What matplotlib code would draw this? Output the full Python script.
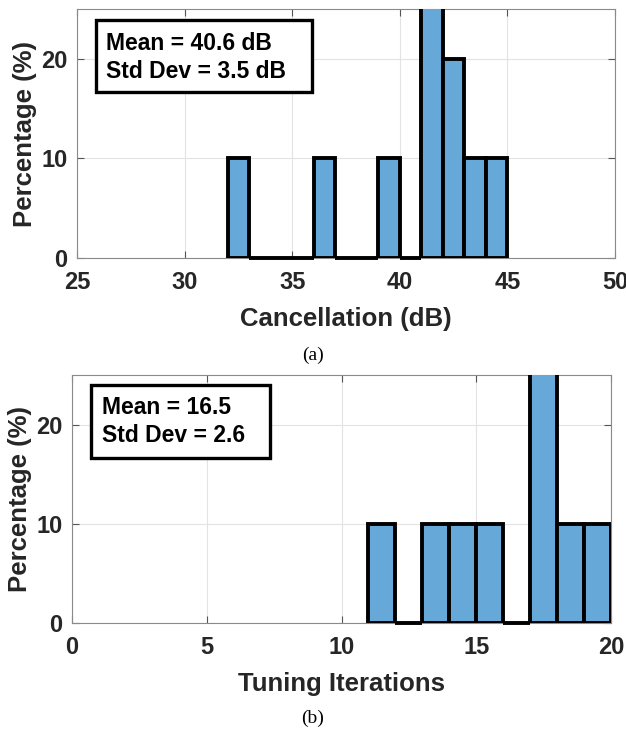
import matplotlib.pyplot as plt
from matplotlib.patches import Rectangle
import numpy as np

plt.rcParams['font.family'] = ['Liberation Sans', 'DejaVu Sans']

# histogram (a): cancellation, bin edges 32..45 step 1
canc_edges = [32, 33, 34, 35, 36, 37, 38, 39, 40, 41, 42, 43, 44, 45]
canc_pct = [10, 0, 0, 0, 10, 0, 0, 10, 0, 30, 20, 10, 10]

# histogram (b): tuning iterations, bin edges 11..20 step 1
iter_edges = [11, 12, 13, 14, 15, 16, 17, 18, 19, 20]
iter_pct = [10, 0, 10, 10, 10, 0, 40, 10, 10]

bar_color = '#66a8d7'
W, H = 626, 736
fig = plt.figure(figsize=(W / 100, H / 100), dpi=100)


def draw_hist(rect, edges, pct, xlim, xticks, xlabel, box_lines, box_px, caption, cap_y):
    ax = fig.add_axes(rect)
    edges = np.array(edges, dtype=float)
    bars = ax.bar(edges[:-1], pct, width=np.diff(edges), align='edge',
                  color=bar_color, edgecolor='black', linewidth=2.8, zorder=3)
    for b in bars:
        # empty bins are drawn as a thick line on the baseline
        if b.get_height() == 0:
            b.set_clip_on(False)
    ax.set_xlim(*xlim)
    ax.set_ylim(0, 25)
    ax.set_xticks(xticks)
    ax.set_yticks([0, 10, 20])
    ax.grid(True, color='#e3e3e3', linewidth=0.8, zorder=0)
    ax.set_axisbelow(True)
    for s in ax.spines.values():
        s.set_color('#8a8a8a')
        s.set_linewidth(0.8)
    ax.tick_params(direction='in', top=True, right=True, length=5,
                   color='#555555', labelsize=17)
    ax.tick_params(axis='x', pad=9)
    ax.tick_params(axis='y', pad=7)
    for lab in ax.get_xticklabels() + ax.get_yticklabels():
        lab.set_fontweight('bold')
        lab.set_color('#262626')
    ax.set_xlabel(xlabel, fontsize=18.5, fontweight='bold', color='#262626', labelpad=10)
    ax.set_ylabel('Percentage (%)', fontsize=18.5, fontweight='bold', color='#262626', labelpad=3)

    # stats annotation box (pixel layout from the figure's top-left)
    x0, y0, x1, y1, tx, ty1, ty2 = box_px
    fig.add_artist(Rectangle((x0 / W, 1 - y1 / H), (x1 - x0) / W, (y1 - y0) / H,
                             transform=fig.transFigure, facecolor='white',
                             edgecolor='black', linewidth=2.4, zorder=5))
    for line, ty in zip(box_lines, (ty1, ty2)):
        fig.text(tx / W, 1 - ty / H, line, fontsize=16.5, fontweight='bold',
                 ha='left', va='center', zorder=6)

    fig.text(0.5, cap_y, caption, ha='center', va='center', fontsize=14,
             family='Liberation Serif')
    return ax


draw_hist([77 / W, 1 - 258 / H, 538 / W, 249 / H],
          canc_edges, canc_pct, (25, 50), [25, 30, 35, 40, 45, 50],
          'Cancellation (dB)', ['Mean = 40.6 dB', 'Std Dev = 3.5 dB'],
          (96, 20, 312, 92, 106, 43, 72), '(a)', 1 - 355 / H)

draw_hist([72 / W, 1 - 623 / H, 539 / W, 248 / H],
          iter_edges, iter_pct, (0, 20), [0, 5, 10, 15, 20],
          'Tuning Iterations', ['Mean = 16.5', 'Std Dev = 2.6'],
          (91, 385, 270, 458, 102, 407, 436), '(b)', 1 - 718 / H)

plt.savefig('out.png', dpi=100)
